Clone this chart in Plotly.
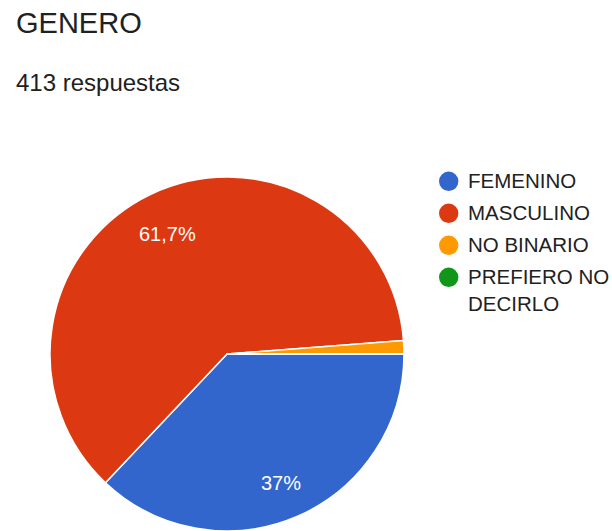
import math
import plotly.graph_objects as go

# ---- data ----
labels = ["FEMENINO", "MASCULINO", "NO BINARIO", "PREFIERO NO DECIRLO"]
legend_names = ["FEMENINO", "MASCULINO", "NO BINARIO", "PREFIERO NO<br>DECIRLO"]
counts = [153, 255, 5, 0]
colors = ["#3366cc", "#dc3912", "#ff9900", "#109618"]
title_text = "GENERO"
subtitle_text = "413 respuestas"

# ---- layout geometry (pixels) ----
W, H = 612, 531
cx, cy, R = 227, 354, 177
FONT = "Liberation Sans, Arial, sans-serif"

# legend geometry
LEG_X, LEG_Y0, LEG_DY, DOT_R, TEXT_X = 448.7, 181.3, 32, 9.7, 465.5
LEG_FS = 20.5

fig = go.Figure()
fig.add_trace(go.Pie(
    labels=labels, values=counts, sort=False,
    direction="clockwise", rotation=90,
    marker=dict(colors=colors, line=dict(color="white", width=1.5)),
    textinfo="none", hoverinfo="label+percent", showlegend=False,
    domain=dict(x=[(cx - R) / W, (cx + R) / W],
                y=[max(0, (H - cy - R) / H), min(1, (H - cy + R) / H)]),
))

annotations = [
    dict(text=title_text, x=14 / W, y=1 - 22.5 / H, xref="paper", yref="paper",
         xanchor="left", yanchor="middle", showarrow=False,
         font=dict(family=FONT, size=29, color="#212121")),
    dict(text=subtitle_text, x=14 / W, y=1 - 82.5 / H, xref="paper", yref="paper",
         xanchor="left", yanchor="middle", showarrow=False,
         font=dict(family=FONT, size=24, color="#212121")),
]
shapes = []

# legend: circle + text per category
for i, (name, col) in enumerate(zip(legend_names, colors)):
    yc = LEG_Y0 + LEG_DY * i
    shapes.append(dict(type="circle", xref="paper", yref="paper",
                       x0=(LEG_X - DOT_R) / W, x1=(LEG_X + DOT_R) / W,
                       y0=1 - (yc + DOT_R) / H, y1=1 - (yc - DOT_R) / H,
                       fillcolor=col, line=dict(width=0)))
    annotations.append(dict(
        text=name, x=TEXT_X / W, y=1 - (yc - (LEG_FS * 1.3 / 2 + 1)) / H,
        xref="paper", yref="paper", xanchor="left", yanchor="top",
        align="left", showarrow=False,
        font=dict(family=FONT, size=LEG_FS, color="#212121")))

# percentage labels placed from the data
total = sum(counts)
cum = 0
for v in counts:
    frac = v / total
    if frac > 0.05:
        mid = 2 * math.pi * (cum + frac / 2)  # clockwise from 3 o'clock
        px = cx + 0.775 * R * math.cos(mid)
        py = cy + 0.775 * R * math.sin(mid) + 3.5
        txt = f"{frac * 100:.1f}".rstrip("0").rstrip(".").replace(".", ",") + "%"
        annotations.append(dict(
            text=txt, x=px / W, y=1 - py / H, xref="paper", yref="paper",
            xanchor="center", yanchor="middle", showarrow=False,
            font=dict(family=FONT, size=20, color="white")))
    cum += frac

fig.update_layout(
    width=W, height=H,
    margin=dict(l=0, r=0, t=0, b=0, autoexpand=False),
    paper_bgcolor="white", plot_bgcolor="white",
    showlegend=False,
    annotations=annotations,
    shapes=shapes,
)

fig.write_html(
    "out.html",
    config={"displayModeBar": False},
    post_script="document.body.style.margin='0';document.body.style.overflow='hidden';",
)
